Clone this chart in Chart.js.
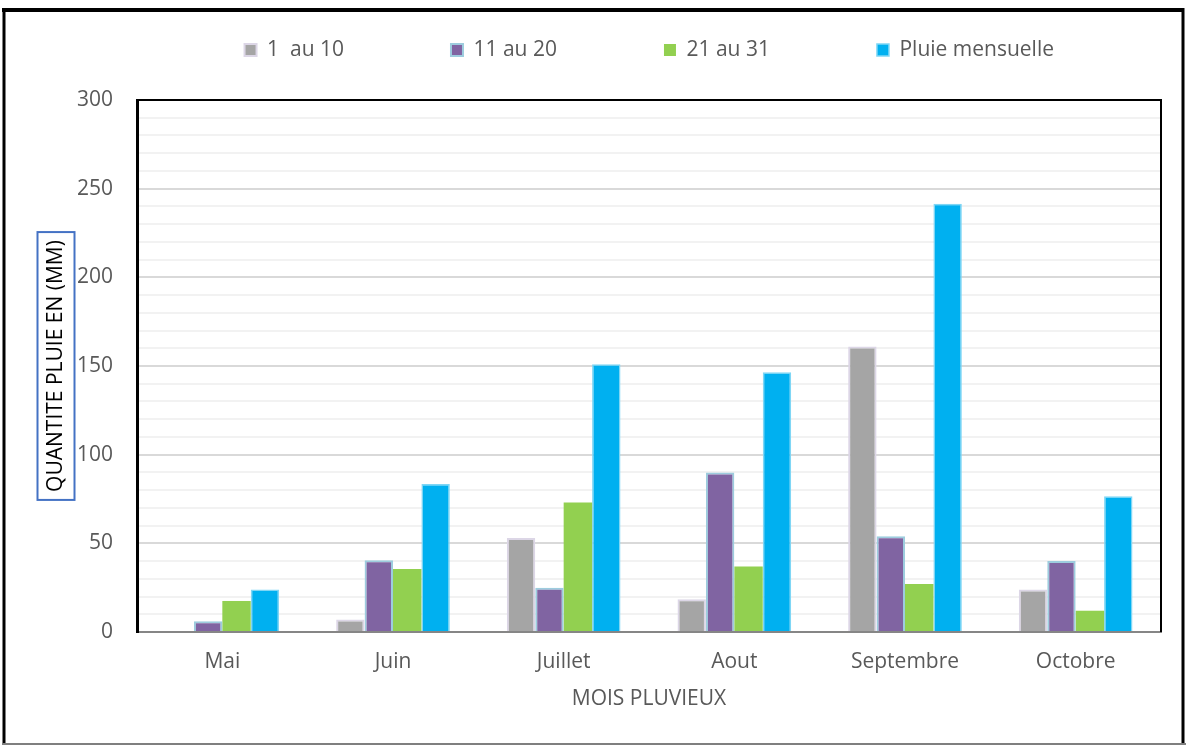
<!DOCTYPE html>
<html>
<head>
<meta charset="utf-8">
<style>
  html, body { margin: 0; padding: 0; background: #fff; }
  #wrap { width: 1186px; height: 745px; position: relative; }
</style>
<script src="https://cdn.jsdelivr.net/npm/chart.js@4/dist/chart.umd.min.js"></script>
</head>
<body>
<div id="wrap"><canvas id="c" width="1186" height="745"></canvas></div>
<script>
// Monthly rainfall by ten-day period (mm)
const months = ['Mai', 'Juin', 'Juillet', 'Aout', 'Septembre', 'Octobre'];
const dek1 = [0, 7, 53, 18.5, 161, 24];        // 1 au 10
const dek2 = [6, 40.5, 25, 90, 54, 40];        // 11 au 20
const dek3 = [17.5, 35.5, 73, 37, 27, 12];     // 21 au 31
const monthly = [24, 83.5, 151, 146.5, 241.5, 76.5]; // Pluie mensuelle
const seriesNames = ['1  au 10', '11 au 20', '21 au 31', 'Pluie mensuelle'];
const yTitle = 'QUANTITE PLUIE EN (MM)';
const xTitle = 'MOIS PLUVIEUX';

const FONT = "'Open Sans', 'Noto Sans', sans-serif";
const FSIZE = 21;
const GREY_TXT = '#595959';

// White background and the outer frame around the whole figure
const framePlugin = {
  id: 'frame',
  beforeDraw(chart) {
    const ctx = chart.ctx;
    ctx.save();
    ctx.fillStyle = '#fff';
    ctx.fillRect(0, 0, chart.width, chart.height);
    ctx.restore();
  },
  afterDraw(chart) {
    const ctx = chart.ctx;
    const W = chart.width, H = chart.height;
    ctx.save();
    ctx.strokeStyle = '#000';
    ctx.lineWidth = 4;
    ctx.beginPath(); ctx.moveTo(2, 10); ctx.lineTo(W - 2, 10); ctx.stroke();
    ctx.lineWidth = 3;
    ctx.beginPath(); ctx.moveTo(4, 8); ctx.lineTo(4, H); ctx.stroke();
    ctx.beginPath(); ctx.moveTo(W - 3, 8); ctx.lineTo(W - 3, H); ctx.stroke();
    ctx.strokeStyle = '#7f7f7f';
    ctx.lineWidth = 2;
    ctx.beginPath(); ctx.moveTo(3, H - 1); ctx.lineTo(W, H - 1); ctx.stroke();

    // top and right edges of the plot area
    const a = chart.chartArea;
    ctx.strokeStyle = '#000';
    ctx.lineWidth = 2;
    ctx.beginPath();
    ctx.moveTo(a.left - 1, a.top);
    ctx.lineTo(a.right, a.top);
    ctx.lineTo(a.right, a.bottom);
    ctx.stroke();

    // box around the vertical axis title
    const ys = chart.scales.y;
    const t = ys.options.title;
    const lh = t.font.size * 1.2;
    const cx = ys.left + t.padding.top + lh / 2;
    const cy = (a.top + a.bottom) / 2;
    ctx.font = `${t.font.size}px ${FONT}`;
    const tw = ctx.measureText(yTitle).width;
    ctx.strokeStyle = '#4472C4';
    ctx.lineWidth = 2;
    ctx.strokeRect(cx - 18.5, cy - tw / 2 - 8, 37, tw + 16);
    ctx.restore();
  }
};

// Extra room below the legend row
const legendBand = {
  id: 'legendBand',
  beforeInit(chart) {
    const lg = chart.legend;
    if (!lg) return;
    const fit = lg.fit;
    lg.fit = function () {
      fit.call(this);
      this.height = 167.5;
    };
  }
};

new Chart(document.getElementById('c'), {
  type: 'bar',
  data: {
    labels: months,
    datasets: [
      { label: seriesNames[0], data: dek1, backgroundColor: '#A5A5A5', borderColor: '#DCD6E6', borderWidth: 2 },
      { label: seriesNames[1], data: dek2, backgroundColor: '#8064A2', borderColor: '#9DCCDE', borderWidth: 2 },
      { label: seriesNames[2], data: dek3, backgroundColor: '#92D050', borderColor: '#92D050', borderWidth: 0 },
      { label: seriesNames[3], data: monthly, backgroundColor: '#00B0F0', borderColor: '#7FD6F5', borderWidth: 1.5 }
    ]
  },
  options: {
    responsive: false,
    animation: false,
    devicePixelRatio: 1,
    layout: { padding: { top: -67.5, right: 25, bottom: 24, left: 0 } },
    datasets: { bar: { barPercentage: 1, categoryPercentage: 0.666, borderSkipped: 'start' } },
    plugins: {
      legend: {
        position: 'top',
        align: 'end',
        labels: {
          boxWidth: 12, boxHeight: 12, padding: 107,
          color: GREY_TXT,
          font: { family: FONT, size: FSIZE }
        }
      },
      tooltip: { enabled: false }
    },
    scales: {
      x: {
        afterFit(s) { s.height = 89; },
        grid: { display: false, drawTicks: false },
        border: { display: true, color: '#868686', width: 2 },
        ticks: { color: GREY_TXT, font: { family: FONT, size: FSIZE }, padding: 17, maxRotation: 0 },
        title: {
          display: true, text: xTitle, color: GREY_TXT,
          font: { family: FONT, size: FSIZE }, padding: { top: 8, bottom: 9 }
        }
      },
      y: {
        min: 0, max: 300,
        afterFit(s) { s.width = 137; },
        grid: {
          drawTicks: false,
          color: (c) => (c.tick && c.tick.value % 50 === 0 ? '#D9D9D9' : '#F2F2F2'),
          lineWidth: 2
        },
        border: { display: true, color: '#000', width: 3 },
        ticks: {
          stepSize: 10, autoSkip: false, padding: 24,
          color: GREY_TXT, font: { family: FONT, size: FSIZE },
          callback: (v) => (v % 50 === 0 ? v : '')
        },
        title: {
          display: true, text: yTitle, color: '#000',
          font: { family: FONT, size: FSIZE }, padding: { top: 43.4, bottom: 0 }
        }
      }
    }
  },
  plugins: [framePlugin, legendBand]
});
</script>
</body>
</html>
